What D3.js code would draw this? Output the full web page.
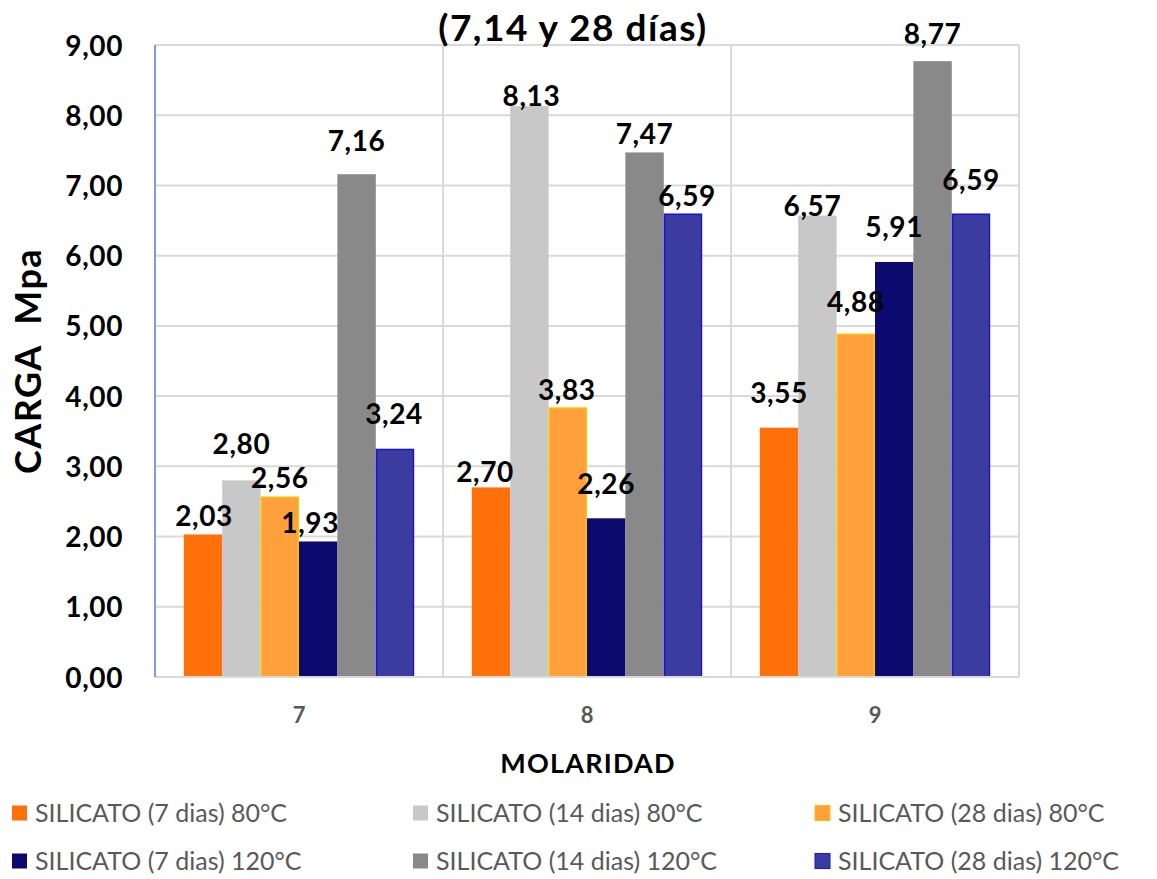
<!DOCTYPE html>
<html><head><meta charset="utf-8">
<script src="https://cdn.jsdelivr.net/npm/d3@7"></script>
<style>
html,body{margin:0;padding:0;background:#fff;}
svg{display:block;}
text{font-family:Lato, "Open Sans", sans-serif;}
</style></head>
<body>
<svg id="chart" width="1157" height="879"></svg>
<script>
// ---- data ----
const categories = ["7", "8", "9"];
const seriesNames = [
  "SILICATO (7 dias) 80°C",
  "SILICATO (14 dias) 80°C",
  "SILICATO (28 dias) 80°C",
  "SILICATO (7 dias) 120°C",
  "SILICATO (14 dias) 120°C",
  "SILICATO (28 dias) 120°C"
];
const s7d80  = [2.03, 2.70, 3.55];
const s14d80 = [2.80, 8.13, 6.57];
const s28d80 = [2.56, 3.83, 4.88];
const s7d120 = [1.93, 2.26, 5.91];
const s14d120= [7.16, 7.47, 8.77];
const s28d120= [3.24, 6.59, 6.59];
const yTicks = [0,1,2,3,4,5,6,7,8,9];
const titleText = "(7,14 y 28 días)";
const yTitle = "CARGA  Mpa";
const xTitle = "MOLARIDAD";

// ---- styles ----
const fills   = ["#FF700A", "#C8C8C8", "#FFA03C", "#0C0A6E", "#898989", "#3C3CA0"];
const strokes = ["none", "none", "#FFC000", "none", "none", "#1414E0"];
// manual label nudges [dx, dy] per series per category (px)
const labelNudge = [
  [[1,0],[-6,3],[0,-17]],
  [[0,-18],[2,8],[-5,8]],
  [[0,-1],[-1,0],[0,-14]],
  [[-8,0],[0,-16],[0,-17]],
  [[0,-15],[0,0],[0,-9]],
  [[-1,-17],[4,0],[0,-16]]
];

const series = [s7d80, s14d80, s28d80, s7d120, s14d120, s28d120];

const svg = d3.select("#chart");
const m = {left:155, top:45, right:1157-1019, bottom:879-677};
const W = 1157 - m.left - m.right, H = 879 - m.top - m.bottom;
const g = svg.append("g").attr("transform", `translate(${m.left},${m.top})`);

const x0 = d3.scaleBand().domain(categories).range([0, W]).paddingInner(0).paddingOuter(0);
const bw = x0.bandwidth();
const x1 = d3.scaleBand().domain(d3.range(series.length)).range([bw*0.1, bw*0.9]).padding(0);
const y = d3.scaleLinear().domain([0, 9]).range([H, 0]);
const fmt = v => d3.format(".2f")(v).replace(".", ",");

// horizontal gridlines
g.append("g").selectAll("line").data(yTicks).join("line")
  .attr("x1", 0).attr("x2", W)
  .attr("y1", d => y(d)).attr("y2", d => y(d))
  .attr("stroke", "#D9D9D9").attr("stroke-width", 2);
// vertical gridlines at category boundaries
g.append("g").selectAll("line").data(categories).join("line")
  .attr("x1", d => x0(d) + bw).attr("x2", d => x0(d) + bw)
  .attr("y1", 0).attr("y2", H)
  .attr("stroke", "#D9D9D9").attr("stroke-width", 2);

// bars
const groups = g.append("g").selectAll("g").data(series).join("g")
  .attr("fill", (d,i) => fills[i]);
groups.each(function(vals, si){
  const hasStroke = strokes[si] !== "none";
  d3.select(this).selectAll("rect").data(vals).join("rect")
    .attr("x", (v,ci) => x0(categories[ci]) + x1(si) + (hasStroke?0.75:0))
    .attr("width", x1.bandwidth() - (hasStroke?1.5:0))
    .attr("y", v => y(v))
    .attr("height", v => H - y(v))
    .attr("stroke", strokes[si])
    .attr("stroke-width", hasStroke?1.5:0);
});

// x baseline
g.append("line").attr("x1",0).attr("x2",W).attr("y1",H).attr("y2",H)
  .attr("stroke","#D9D9D9").attr("stroke-width",2);
// y axis line
g.append("line").attr("x1",0).attr("x2",0).attr("y1",0).attr("y2",H)
  .attr("stroke","#7F9FD0").attr("stroke-width",2);

// data labels (separate top layer)
const labelLayer = g.append("g");
series.forEach((vals, si) => {
  labelLayer.append("g").selectAll("text").data(vals).join("text")
    .attr("x", (v,ci) => x0(categories[ci]) + x1(si) + x1.bandwidth()/2 + labelNudge[si][ci][0])
    .attr("y", (v,ci) => y(v) - 8 + labelNudge[si][ci][1])
    .attr("text-anchor", "middle")
    .attr("fill", "#000")
    .attr("font-weight", 700)
    .attr("font-size", 28)
    .attr("letter-spacing", 0.6)
    .text(v => fmt(v));
});

// y tick labels
const yAxis = d3.axisLeft(y).tickValues(yTicks).tickSize(0).tickPadding(32).tickFormat(fmt);
const ya = g.append("g").call(yAxis);
ya.select(".domain").remove();
ya.selectAll("text").attr("font-family","Lato, sans-serif").attr("font-size",28)
  .attr("font-weight",700).attr("fill","#000").attr("letter-spacing",0.6).attr("dy","0.36em");

// x tick labels
const xAxis = d3.axisBottom(x0).tickSize(0).tickPadding(30);
const xa = g.append("g").attr("transform", `translate(0,${H})`).call(xAxis);
xa.select(".domain").remove();
xa.selectAll("text").attr("font-family","Lato, sans-serif").attr("font-size",22)
  .attr("font-weight",700).attr("fill","#595959");

// titles
svg.append("text").attr("x", 573).attr("y", 41).attr("text-anchor","middle")
  .attr("font-size", 37).attr("font-weight", 700).attr("letter-spacing", 1.5)
  .attr("fill","#000").text(titleText);
svg.append("text").attr("x", 588).attr("y", 773).attr("text-anchor","middle")
  .attr("font-size", 27).attr("font-weight", 700).attr("letter-spacing", 1.2)
  .attr("fill","#000").text(xTitle);
svg.append("text").attr("transform", `translate(41,${m.top + H/2}) rotate(-90)`)
  .attr("text-anchor","middle").attr("font-size", 36).attr("font-weight", 700)
  .attr("letter-spacing", 1.5).style("white-space","pre")
  .attr("fill","#000").text(yTitle);

// legend
const legX = [12, 413, 815], legY = [813, 861];
const leg = svg.append("g").selectAll("g").data(seriesNames).join("g")
  .attr("transform", (d,i) => `translate(${legX[i%3]},${legY[Math.floor(i/3)]})`);
leg.append("rect").attr("x",0).attr("y",-7.5).attr("width",15).attr("height",15)
  .attr("fill",(d,i)=>fills[i]).attr("stroke",(d,i)=>strokes[i]).attr("stroke-width",1);
leg.append("text").attr("x", 23).attr("y", 0).attr("dy","0.35em")
  .attr("font-size", 25).attr("fill","#595959").text(d => d);
</script>
</body></html>
